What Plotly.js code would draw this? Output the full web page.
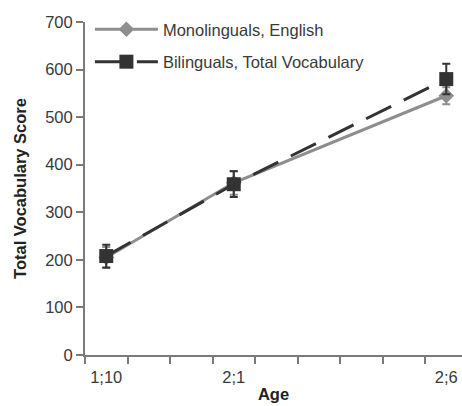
<!DOCTYPE html>
<html>
<head>
<meta charset="utf-8">
<script src="https://cdn.plot.ly/plotly-3.0.1.min.js"></script>
<style>
  html, body { margin: 0; padding: 0; background: #fff; }
  #chart { width: 462px; height: 406px; }
</style>
</head>
<body>
<div id="chart"></div>
<script>
// Ages (labels and value in months)
const ageLabels = ['1;10', '2;1', '2;6'];
const ageMonths = [22, 25, 30];

// Monolinguals, English
const monoScores = [205, 362, 545];
const monoErr = [22, 25, 18];

// Bilinguals, Total Vocabulary
const biScores = [208, 359, 580];
const biErr = [24, 27, 32];

const monoColor = '#8e8e8e';
const biColor = '#333333';
const axisColor = '#7a7a7a';
const textColor = '#3a3a3a';

const traces = [
  {
    x: ageMonths, y: monoScores, name: 'Monolinguals, English',
    type: 'scatter', mode: 'lines+markers', legendgroup: 'mono',
    line: { color: monoColor, width: 3 },
    marker: { symbol: 'diamond', size: 12, color: monoColor },
    error_y: { type: 'data', array: monoErr, visible: true, color: monoColor, thickness: 2, width: 4 }
  },
  {
    x: ageMonths, y: biScores, name: 'Bilinguals, Total Vocabulary',
    type: 'scatter', mode: 'lines+markers', legendgroup: 'bi',
    line: { color: biColor, width: 3, dash: '28px,14px' },
    marker: { symbol: 'square', size: 14, color: biColor },
    error_y: { type: 'data', array: biErr, visible: true, color: biColor, thickness: 2, width: 4 }
  }
];

const layout = {
  width: 462, height: 406,
  margin: { l: 85, r: 0, t: 22, b: 51, pad: 0 },
  paper_bgcolor: '#fff', plot_bgcolor: '#fff',
  font: { family: 'Liberation Sans, Arial, sans-serif', size: 16.5, color: textColor },
  showlegend: true,
  legend: {
    x: 0.013, y: 1.03, xanchor: 'left', yanchor: 'top',
    bgcolor: 'rgba(0,0,0,0)', traceorder: 'grouped', tracegroupgap: 8,
    itemwidth: 63, font: { size: 16.5, color: textColor }
  },
  xaxis: {
    range: [21.5, 30.37], showgrid: false, zeroline: false,
    showline: true, linecolor: axisColor, linewidth: 2,
    tickmode: 'array', tickvals: ageMonths, ticktext: ageLabels,
    ticks: 'outside', ticklen: 6, tickcolor: 'rgba(0,0,0,0)',
    tickfont: { size: 16.5, color: textColor },
    minor: { ticks: 'outside', ticklen: 7, tickwidth: 2, tickcolor: axisColor, tick0: 21.5, dtick: 1, showgrid: false },
    title: { text: '<b>Age</b>', font: { size: 16.5, color: '#222' }, standoff: 4 }
  },
  yaxis: {
    range: [0, 700], dtick: 100, tick0: 0, showgrid: false, zeroline: false,
    showline: true, linecolor: axisColor, linewidth: 2,
    ticks: 'outside', ticklen: 7, tickwidth: 2, tickcolor: axisColor,
    tickfont: { size: 16.5, color: textColor },
    title: { text: '<b>Total Vocabulary Score</b>', font: { size: 16.5, color: '#222' }, standoff: 14 }
  }
};

Plotly.newPlot('chart', traces, layout, { displayModeBar: false, staticPlot: true });
</script>
</body>
</html>
